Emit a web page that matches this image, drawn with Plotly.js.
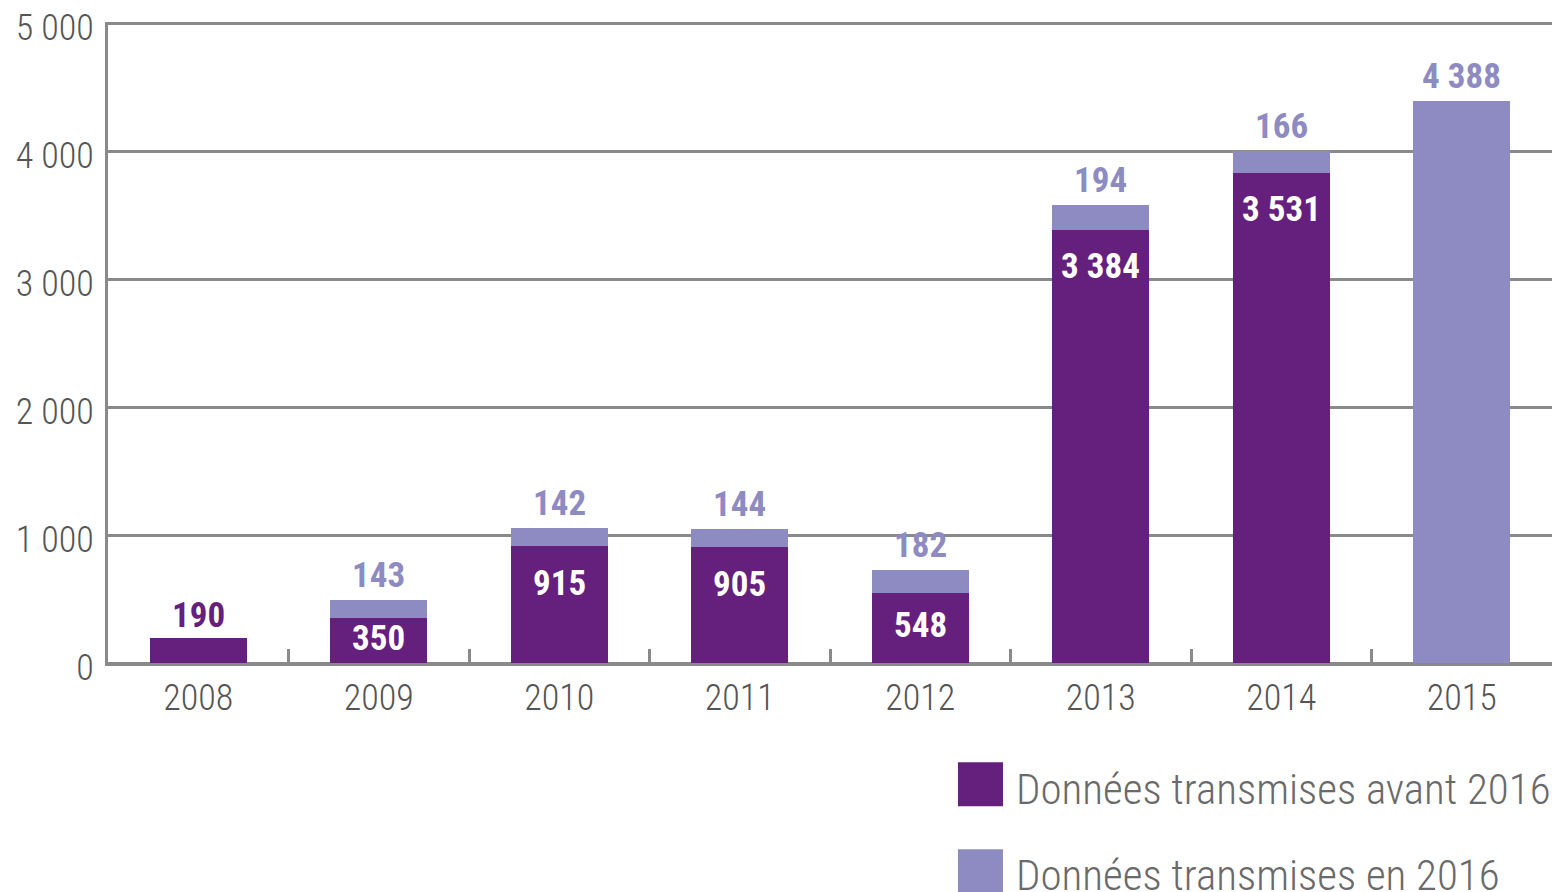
<!DOCTYPE html>
<html>
<head>
<meta charset="utf-8">
<script src="https://cdn.plot.ly/plotly-3.0.1.min.js"></script>
<style>html,body{margin:0;padding:0;background:#fff;}#chart{width:1552px;height:892px;}</style>
</head>
<body>
<div id="chart"></div>
<script>
const years = ['2008','2009','2010','2011','2012','2013','2014','2015'];
const avant = [195, 350, 915, 905, 548, 3384, 3831, 0];
const en2016 = [0, 143, 142, 144, 182, 194, 166, 4388];
const avantLabels = ['190','350','915','905','548','3 384','3 531',''];
const en2016Labels = ['','143','142','144','182','194','166','4 388'];
const yTickVals = [0, 1000, 2000, 3000, 4000, 5000];
const yTickText = ['0','1 000','2 000','3 000','4 000','5 000'];
const seriesNames = ['Données transmises avant 2016','Données transmises en 2016'];

const DARK = '#651f7d', LIGHT = '#8e8bc2', GRID = '#8a8a8a';
const FONT = '"Roboto Condensed", "Liberation Sans", sans-serif';

const traces = [
  {type:'bar', x: years, y: avant, name: seriesNames[0], marker:{color: DARK}, hoverinfo:'none'},
  {type:'bar', x: years, y: en2016, name: seriesNames[1], marker:{color: LIGHT}, hoverinfo:'none'}
];

const annotations = [];
years.forEach((yr, i) => {
  const total = avant[i] + en2016[i];
  if (en2016[i] > 0 && en2016Labels[i]) {
    annotations.push({x: i, y: total, text: en2016Labels[i], showarrow:false, yanchor:'bottom', yshift:2,
      font:{family: FONT, size:35, color: LIGHT, weight:'bold'}});
  }
  if (avant[i] > 0 && avantLabels[i]) {
    if (en2016[i] === 0) {
      annotations.push({x: i, y: total, text: avantLabels[i], showarrow:false, yanchor:'bottom', yshift:0,
        font:{family: FONT, size:35, color: DARK, weight:'bold'}});
    } else {
      annotations.push({x: i, y: Math.max(avant[i]-290, avant[i]/2 + 20), text: avantLabels[i], showarrow:false, yanchor:'middle',
        font:{family: FONT, size:35, color: '#ffffff', weight:'bold'}});
    }
  }
});

// custom legend
const legendColors = [DARK, LIGHT];
const legendRowsY = [[-0.1547,-0.2234,-0.1969],[-0.2906,-0.3594,-0.3313]];
const shapes = [];
seriesNames.forEach((n, k) => {
  shapes.push({type:'rect', xref:'paper', yref:'paper', x0:0.5886, x1:0.6198, y0:legendRowsY[k][0], y1:legendRowsY[k][1],
    fillcolor: legendColors[k], line:{width:0}});
  annotations.push({xref:'paper', yref:'paper', x:0.6302, y:legendRowsY[k][2], xanchor:'left', yanchor:'middle', xshift:-4,
    text:n, showarrow:false, font:{family: FONT, size:43, color:'#6a6a6a', weight:300}});
});

const layout = {
  width:1552, height:892,
  margin:{l:108, r:0, t:22, b:229, pad:0},
  paper_bgcolor:'#fff', plot_bgcolor:'#fff',
  barmode:'stack', bargap:0.46,
  showlegend:false,
  font:{family: FONT, color:'#555'},
  xaxis:{type:'category', range:[-0.5, 7.5], autorange:false, showgrid:false, showline:true, linecolor:GRID, linewidth:3,
    ticks:'inside', tickson:'boundaries', ticklen:14, tickwidth:3, tickcolor:GRID,
    tickfont:{family: FONT, size:36, color:'#555', weight:300}, ticklabelstandoff:1, fixedrange:true},
  yaxis:{range:[0,5008], autorange:false, tickvals:yTickVals, ticktext:yTickText, showgrid:true, gridcolor:GRID, gridwidth:3,
    showline:true, linecolor:GRID, linewidth:3, zeroline:true, zerolinecolor:GRID, zerolinewidth:3,
    ticks:'', tickfont:{family: FONT, size:36, color:'#555', weight:300}, ticklabelstandoff:4, ticklabelshift:4, fixedrange:true},
  annotations: annotations,
  shapes: shapes
};

Plotly.newPlot('chart', traces, layout, {displayModeBar:false, staticPlot:true});
</script>
</body>
</html>
